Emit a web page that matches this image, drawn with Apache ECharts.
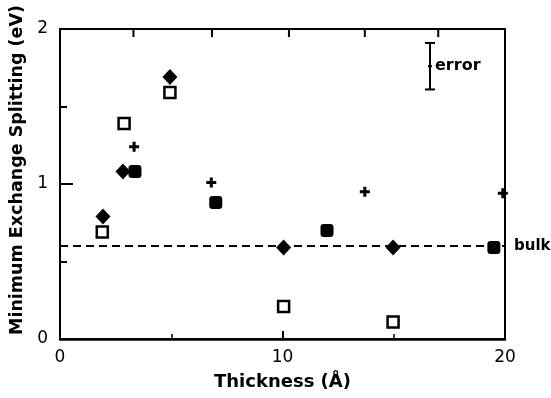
<!DOCTYPE html>
<html>
<head>
<meta charset="utf-8">
<script src="https://cdn.jsdelivr.net/npm/echarts@6/dist/echarts.min.js"></script>
<style>html,body{margin:0;padding:0;background:#fff}#c{width:551px;height:398px}</style>
</head>
<body>
<div id="c"></div>
<script>
// ---- data ----
const diamondThickness = [1.93, 2.83, 4.94, 10.05, 14.97];
const diamondSplit     = [0.79, 1.08, 1.69, 0.59, 0.59];
const openThickness    = [1.9, 2.88, 4.94, 10.05, 14.97];
const openSplit        = [0.69, 1.39, 1.59, 0.21, 0.11];
const plusThickness    = [3.33, 6.8, 13.7, 19.9];
const plusSplit        = [1.24, 1.01, 0.95, 0.94];
const filledThickness  = [3.37, 7.0, 12.0, 19.5];
const filledSplit      = [1.08, 0.88, 0.70, 0.59];
const bulkValue = 0.6;
const bulkRange = [0, 20];
const errorBar = [16.63, 1.61, 1.91]; // x, low, high
const xTickLabels = ['0', '10', '20'];
const yTickLabels = ['0', '1', '2'];
const topTickThickness = [3.3, 6.83, 10.29, 13.7, 17.0]; // unlabeled ticks on the top frame

const FONT = '"DejaVu Sans", "Liberation Sans", sans-serif';
const zip = (a, b) => a.map((v, i) => [v, b[i]]);
const solid = {color: '#000', opacity: 1};

const chart = echarts.init(document.getElementById('c'), null, {renderer: 'canvas'});
chart.setOption({
  animation: false,
  backgroundColor: '#fff',
  grid: {left: 60, right: 46, top: 29, bottom: 59, show: true, borderColor: '#000', borderWidth: 2, backgroundColor: 'transparent'},
  xAxis: {
    type: 'value', min: 0, max: 20, interval: 10, position: 'bottom',
    axisLine: {show: true, onZero: false, lineStyle: {color: '#000', width: 2.5}},
    axisTick: {show: true, inside: true, length: 8, lineStyle: {color: '#000', width: 2}},
    minorTick: {show: true, splitNumber: 2, length: 5, lineStyle: {color: '#000', width: 1.5}},
    splitLine: {show: false},
    axisLabel: {color: '#000', fontFamily: FONT, fontSize: 17, margin: 10,
      formatter: v => xTickLabels[Math.round(v / 10)] || ''},
    name: 'Thickness (Å)', nameLocation: 'middle', nameGap: 34,
    nameTextStyle: {color: '#000', fontFamily: FONT, fontWeight: 'bold', fontSize: 18}
  },
  yAxis: {
    type: 'value', min: 0, max: 2, interval: 1,
    axisLine: {show: true, onZero: false, lineStyle: {color: '#000', width: 2}},
    axisTick: {show: true, inside: true, length: 13, lineStyle: {color: '#000', width: 2}},
    minorTick: {show: true, splitNumber: 2, length: 7, lineStyle: {color: '#000', width: 2}},
    splitLine: {show: false},
    axisLabel: {color: '#000', fontFamily: FONT, fontSize: 17, margin: 12,
      formatter: v => yTickLabels[Math.round(v)] || ''},
    name: 'Minimum Exchange Splitting (eV)', nameLocation: 'middle', nameGap: 34,
    nameTextStyle: {color: '#000', fontFamily: FONT, fontWeight: 'bold', fontSize: 17.5,
      padding: [0, 0, 0, 28]}
  },
  series: [
    {
      type: 'line', data: zip(bulkRange, [bulkValue, bulkValue]), symbol: 'none', z: 1,
      lineStyle: {color: '#000', width: 2, type: [8, 5]},
      endLabel: {show: true, formatter: 'bulk', distance: 9, color: '#000',
        fontFamily: FONT, fontWeight: 'bold', fontSize: 15}
    },
    {
      type: 'scatter', data: zip(diamondThickness, diamondSplit), symbol: 'diamond',
      symbolSize: [15, 16], itemStyle: solid, z: 3
    },
    {
      type: 'scatter', data: zip(openThickness, openSplit), symbol: 'rect',
      symbolSize: 11, itemStyle: {color: '#fff', opacity: 1, borderColor: '#000', borderWidth: 2.5}, z: 3
    },
    {
      type: 'scatter', data: zip(plusThickness, plusSplit),
      symbol: 'path://M3.5,0H6.5V3.5H10V6.5H6.5V10H3.5V6.5H0V3.5H3.5Z',
      symbolSize: 10, itemStyle: solid, z: 3
    },
    {
      type: 'scatter', data: zip(filledThickness, filledSplit), symbol: 'roundRect',
      symbolSize: 13, itemStyle: solid, z: 3
    },
    {
      type: 'custom', data: [errorBar], z: 4, clip: false,
      renderItem: function (params, api) {
        const top = api.coord([api.value(0), api.value(2)]);
        const bot = api.coord([api.value(0), api.value(1)]);
        const mid = (top[1] + bot[1]) / 2;
        const ls = {stroke: '#000', lineWidth: 2};
        return {type: 'group', children: [
          {type: 'line', shape: {x1: top[0], y1: top[1], x2: bot[0], y2: bot[1]}, style: ls},
          {type: 'line', shape: {x1: top[0] - 5, y1: top[1], x2: top[0] + 5, y2: top[1]}, style: ls},
          {type: 'line', shape: {x1: bot[0] - 5, y1: bot[1], x2: bot[0] + 5, y2: bot[1]}, style: ls},
          {type: 'line', shape: {x1: top[0] - 2, y1: mid, x2: top[0] + 2, y2: mid}, style: ls},
          {type: 'text', style: {text: 'error', x: top[0] + 5, y: mid, verticalAlign: 'middle',
            fill: '#000', font: 'bold 16px ' + FONT}}
        ]};
      }
    }
  ]
});

// unlabeled ticks hanging from the top frame, placed through the x/y scales
chart.setOption({
  graphic: topTickThickness.map(function (t) {
    const p = chart.convertToPixel({gridIndex: 0}, [t, 2]);
    return {type: 'rect', shape: {x: p[0] - 1, y: p[1], width: 2, height: 8},
      style: {fill: '#000'}, z: 100, silent: true};
  })
});
</script>
</body>
</html>
